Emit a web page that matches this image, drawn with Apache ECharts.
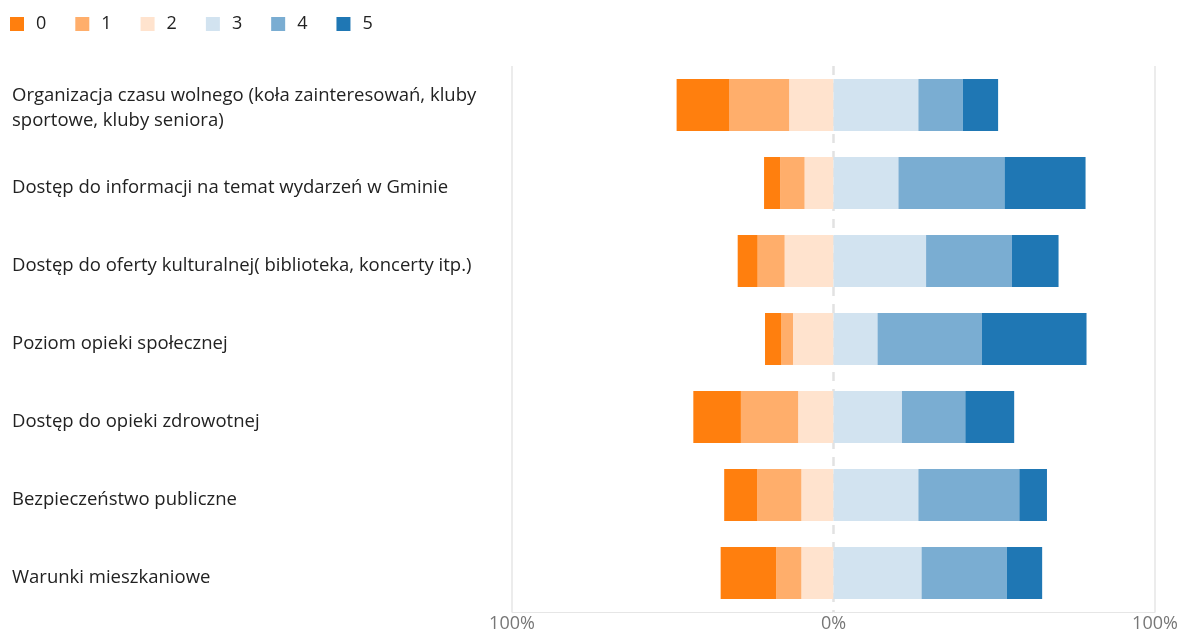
<!DOCTYPE html>
<html>
<head>
<meta charset="utf-8">
<script src="https://cdn.jsdelivr.net/npm/echarts@6/dist/echarts.min.js"></script>
<style>
html,body{margin:0;padding:0;background:#fff;}
#chart{width:1181px;height:633px;}
</style>
</head>
<body>
<div id="chart"></div>
<script>
const categories = [
  'Organizacja czasu wolnego (koła zainteresowań, kluby\nsportowe, kluby seniora)',
  'Dostęp do informacji na temat wydarzeń w Gminie',
  'Dostęp do oferty kulturalnej( biblioteka, koncerty itp.)',
  'Poziom opieki społecznej',
  'Dostęp do opieki zdrowotnej',
  'Bezpieczeństwo publiczne',
  'Warunki mieszkaniowe'
];
const seriesNames = ['0', '1', '2', '3', '4', '5'];
const s0 = [16.3, 5.0, 6.2, 5.1, 14.8, 10.3, 17.3];
const s1 = [18.7, 7.6, 8.4, 3.6, 17.8, 13.7, 7.8];
const s2 = [13.8, 9.0, 15.2, 12.6, 11.0, 10.0, 10.0];
const s3 = [26.4, 20.2, 28.8, 13.7, 21.3, 26.4, 27.4];
const s4 = [13.8, 33.0, 26.7, 32.4, 19.7, 31.4, 26.5];
const s5 = [11.0, 25.2, 14.5, 32.6, 15.2, 8.6, 11.0];
const tickValues = [-100, 0, 100];
const colors = {'0':'#ff7f0e','1':'#ffae6b','2':'#ffe3ce','3':'#d2e3f0','4':'#7aadd2','5':'#1f77b4'};

const FONT = '"Segoe UI", "Open Sans", "Noto Sans", sans-serif';

function mk(name, vals, neg, extra) {
  return Object.assign({
    name: name,
    type: 'bar',
    stack: 'all',
    barWidth: '66.5%',
    itemStyle: { color: colors[name] },
    emphasis: { disabled: true },
    data: vals.map(v => neg ? -v : v)
  }, extra || {});
}

const series = [
  mk('2', s2, true),
  mk('1', s1, true),
  mk('0', s0, true),
  mk('3', s3, false, {
    markLine: {
      silent: true, symbol: 'none', z: 1,
      label: { show: false },
      lineStyle: { color: '#e2e2e2', type: [9, 8], width: 2.5 },
      data: [{ xAxis: 0 }]
    }
  }),
  mk('4', s4, false),
  mk('5', s5, false)
];

const labelText = { fontSize: 18.5, color: '#222', lineHeight: 25, fontFamily: FONT };

const chart = echarts.init(document.getElementById('chart'));
chart.setOption({
  animation: false,
  textStyle: { fontFamily: FONT },
  legend: {
    data: seriesNames,
    left: 5, top: 10,
    itemWidth: 14, itemHeight: 14, itemGap: 29,
    icon: 'rect',
    textStyle: { fontSize: 18, color: '#222', fontFamily: FONT, padding: [0, 0, 0, 7] }
  },
  grid: { left: 512, right: 26, top: 66, bottom: 19, containLabel: false },
  xAxis: {
    type: 'value', min: -100, max: 100, interval: 100,
    axisLine: { show: true, lineStyle: { color: '#e6e6e6', width: 1 } },
    axisTick: { show: false },
    axisLabel: {
      margin: 3, fontSize: 18, color: '#777', fontFamily: FONT,
      formatter: v => tickValues.includes(v) ? Math.abs(v) + '%' : ''
    },
    splitLine: { show: true, lineStyle: { color: ['#e6e6e6', 'rgba(0,0,0,0)', '#e6e6e6'], width: 1.5 } }
  },
  yAxis: {
    type: 'category', data: categories, inverse: true,
    axisLine: { show: false }, axisTick: { show: false },
    axisLabel: {
      margin: 500, align: 'left', fontSize: 18.5, color: '#222', lineHeight: 25,
      fontFamily: FONT,
      formatter: v => {
        const lines = v.split('\n');
        const tag = lines.length > 1 ? 'm' : 's';
        return lines.map(l => '{' + tag + '|' + l + '}').join('\n');
      },
      rich: {
        s: Object.assign({ padding: [10, 0, 0, 0] }, labelText),
        m: Object.assign({ padding: [6, 0, 0, 0] }, labelText)
      }
    }
  },
  series: series
});
</script>
</body>
</html>
